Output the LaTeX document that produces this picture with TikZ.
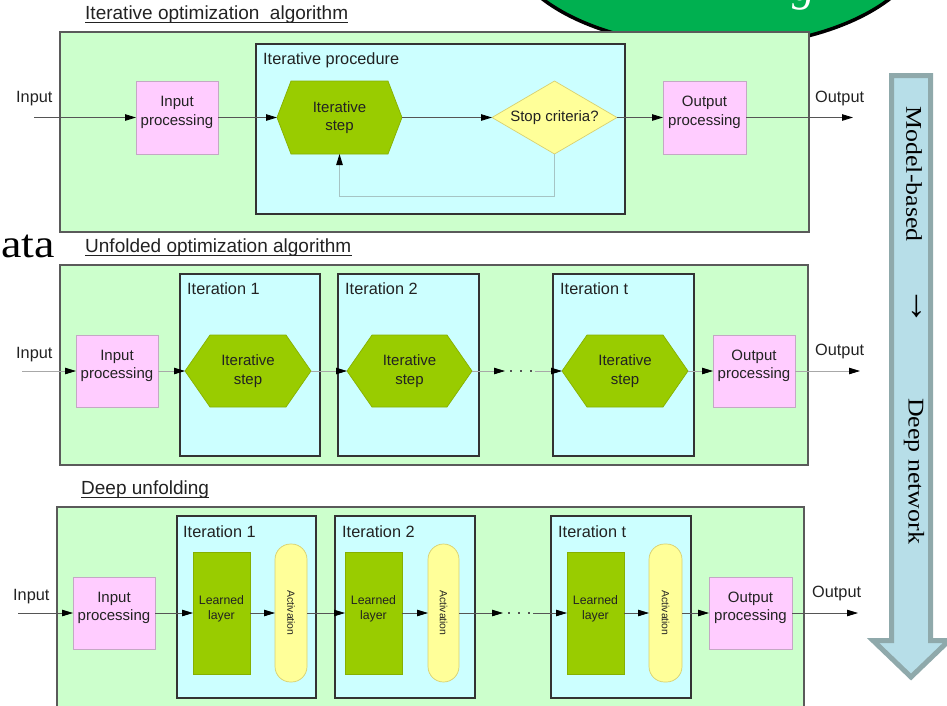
\documentclass[tikz,border=0pt]{standalone}
\usepackage{fontspec}
\setmainfont{Liberation Sans}
\newfontfamily\slideserif[FakeStretch=1.15]{Liberation Serif}
\newfontfamily\slideplain{Liberation Serif}
\usetikzlibrary{arrows.meta,fit}

\definecolor{panelgreen}{HTML}{CCFFCC}
\definecolor{panelline}{HTML}{5A5A5A}
\definecolor{itercyan}{HTML}{CCFFFF}
\definecolor{iterline}{HTML}{333333}
\definecolor{procpink}{HTML}{FFCCFF}
\definecolor{pinkline}{HTML}{C4A8C4}
\definecolor{stepgreen}{HTML}{99CC00}
\definecolor{stepline}{HTML}{86B000}
\definecolor{paleyellow}{HTML}{FFFF99}
\definecolor{yellowline}{HTML}{D8D070}
\definecolor{badgegreen}{HTML}{00B050}
\definecolor{arrowfill}{HTML}{B7DEE8}
\definecolor{arrowline}{HTML}{8FA9AB}
\definecolor{textgray}{HTML}{222222}
\definecolor{wiredark}{HTML}{555555}
\definecolor{wirelight}{HTML}{A8A8A8}
\definecolor{loopline}{HTML}{A6C4C4}

% hexagonal "Iterative step" block: name, corner, corner, inset, text
\newcommand\hexnode[5]{%
  \node[fit={#2 #3}, inner sep=0pt, outer sep=0pt] (#1) {};
  \filldraw[hexshape] (#1.west) -- ([xshift=#4pt]#1.north west)
    -- ([xshift=-#4pt]#1.north east) -- (#1.east)
    -- ([xshift=-#4pt]#1.south east) -- ([xshift=#4pt]#1.south west) -- cycle;
  \node[boxtext] (#1-text) at (#1.center) {#5};
}
% decision diamond: name, corner, corner, text
\newcommand\diamondnode[4]{%
  \node[fit={#2 #3}, inner sep=0pt, outer sep=0pt] (#1) {};
  \filldraw[diamondshape] (#1.west) -- (#1.north) -- (#1.east) -- (#1.south) -- cycle;
  \node[boxtext] (#1-text) at (#1.center) {#4};
}

\begin{document}
\begin{tikzpicture}[x=1pt,y=-1pt,
  panel/.style={draw=panelline, fill=panelgreen, line width=1.4pt, inner sep=0pt, outer sep=0pt},
  iterbox/.style={draw=iterline, fill=itercyan, line width=1.3pt, inner sep=0pt, outer sep=0pt},
  procbox/.style={draw=pinkline, fill=procpink, line width=0.7pt, inner sep=0pt, outer sep=0pt,
    align=center, text=textgray, font=\fontsize{15}{18.5}\selectfont},
  layerbox/.style={draw=stepline, fill=stepgreen, line width=0.7pt, inner sep=0pt, outer sep=0pt,
    align=center, text=textgray, font=\fontsize{12.3}{14.7}\selectfont},
  actbox/.style={draw=yellowline, fill=paleyellow, line width=0.7pt, inner sep=0pt, outer sep=0pt,
    rounded corners=15.5pt},
  acttext/.style={rotate=-90, inner sep=0pt, text=textgray, font=\fontsize{10.4}{10.4}\selectfont},
  hexshape/.style={fill=stepgreen, draw=stepline, line width=0.7pt},
  diamondshape/.style={fill=paleyellow, draw=yellowline, line width=0.7pt},
  boxtext/.style={align=center, inner sep=0pt, text=textgray, font=\fontsize{15}{18.5}\selectfont},
  lbl/.style={anchor=base west, inner sep=0pt, text=textgray, font=\fontsize{16.3}{16.3}\selectfont},
  title/.style={anchor=base west, inner sep=0pt, text=textgray, font=\fontsize{19}{19}\selectfont},
  uline/.style={draw=textgray, line width=0.9pt},
  tip/.style={-{Triangle[length=11pt,width=6.5pt,color=black]}},
  conn/.style={draw=wiredark, line width=0.8pt, tip},
  connlight/.style={draw=wirelight, line width=0.8pt, tip},
  loopconn/.style={draw=loopline, line width=0.9pt, tip},
  dots/.style={draw=wiredark, line width=1.6pt, dash pattern=on 1.6pt off 8.4pt},
  bigarrow/.style={fill=arrowfill, draw=arrowline, line width=5pt, line join=miter}
]
\useasboundingbox (0,0) rectangle (947,705);
\clip (0,0) rectangle (947,705);

% ---------------- slide decorations ----------------
\filldraw[fill=badgegreen, draw=black, line width=3.5pt] (716,-63) ellipse [x radius=210, y radius=110];
\node[anchor=base, inner sep=0pt, text=white, font=\slideplain\itshape\fontsize{46}{46}\selectfont] (badgeg) at (804,0) {g};
\node[anchor=base west, inner sep=0pt, text=black, font=\slideserif\fontsize{40}{40}\selectfont] (sideword) at (1,257) {ata};

% big downward arrow with its caption
\filldraw[bigarrow] (891.5,75.5) -- (930.5,75.5) -- (930.5,640.5) -- (949,640.5)
  -- (911,677) -- (873,640.5) -- (891.5,640.5) -- cycle;
\node[rotate=-90, inner sep=0pt, font=\slideserif\fontsize{22.5}{22.5}\selectfont] (modelword) at (914,174) {Model-based};
\node[rotate=-90, inner sep=0pt, font=\slideplain\fontsize{38}{38}\selectfont] (shiftarrow) at (916,306) {→};
\node[rotate=-90, inner sep=0pt, font=\slideserif\fontsize{22.5}{22.5}\selectfont] (deepword) at (914,471) {Deep network};

% ---------------- iterative optimization algorithm ----------------
\node[title] (titleA) at (85,19.5) {Iterative optimization~~algorithm};
\draw[uline] ([yshift=-3pt]titleA.base west) -- ([yshift=-3pt]titleA.base east);
\node[panel, fit={(60,32) (809,232)}] (panelA) {};
\node[iterbox, fit={(256,44) (625,214)}] (procA) {};
\node[lbl] (procAlabel) at (263,64) {Iterative procedure};
\node[procbox, fit={(136,81) (218,154)}] (inA) {Input\\processing};
\hexnode{stepA}{(277,81)}{(402,154)}{14}{Iterative\\step}
\diamondnode{stopA}{(492,81)}{(617,154)}{Stop criteria?}
\node[procbox, fit={(663,81) (746,154)}] (outA) {Output\\processing};
\node[lbl] (inlabelA) at (16,102) {Input};
\node[lbl] (outlabelA) at (815,102) {Output};
\coordinate (inStartA) at (34,117.5);
\coordinate (outEndA) at (853,117.5);
\draw[conn] (inStartA) -- (inA.west);
\draw[conn] (inA.east) -- (stepA.west);
\draw[conn] (stepA.east) -- (stopA.west);
\draw[conn] (stopA.east) -- (outA.west);
\draw[conn] (outA.east) -- (outEndA);
\draw[loopconn] (stopA.south) -- ++(0,42) -| (stepA.south);

% ---------------- unfolded optimization algorithm ----------------
\node[title] (titleB) at (85,252) {Unfolded optimization algorithm};
\draw[uline] ([yshift=-3pt]titleB.base west) -- ([yshift=-3pt]titleB.base east);
\node[panel, fit={(60,265) (808,465)}] (panelB) {};
\node[iterbox, fit={(180,274) (320,456)}] (iterB1) {};
\node[iterbox, fit={(338,274) (479,456)}] (iterB2) {};
\node[iterbox, fit={(553,274) (694,456)}] (iterBt) {};
\node[lbl] (iterB1label) at (187,294) {Iteration 1};
\node[lbl] (iterB2label) at (345,294) {Iteration 2};
\node[lbl] (iterBtlabel) at (560,294) {Iteration t};
\node[procbox, fit={(76,335) (158,407)}] (inB) {Input\\processing};
\hexnode{stepB1}{(185,335)}{(311,407)}{25}{Iterative\\step}
\hexnode{stepB2}{(347,335)}{(472,407)}{25}{Iterative\\step}
\hexnode{stepBt}{(562,335)}{(688,407)}{25}{Iterative\\step}
\node[procbox, fit={(713,335) (795,407)}] (outB) {Output\\processing};
\node[lbl] (inlabelB) at (16,358) {Input};
\node[lbl] (outlabelB) at (815,355) {Output};
\coordinate (inStartB) at (22,371);
\coordinate (outEndB) at (860,371);
\coordinate (skipB1) at (505,371);
\coordinate (skipB2) at (535,371);
\draw[connlight] (inStartB) -- (inB.west);
\draw[connlight] (inB.east) -- (stepB1.west);
\draw[connlight] (stepB1.east) -- (stepB2.west);
\draw[connlight] (stepB2.east) -- (skipB1);
\draw[dots] ([xshift=5pt]skipB1) -- (skipB2);
\draw[connlight] (skipB2) -- (stepBt.west);
\draw[connlight] (stepBt.east) -- (outB.west);
\draw[connlight] (outB.east) -- (outEndB);

% ---------------- deep unfolding ----------------
\node[title] (titleC) at (81,494) {Deep unfolding};
\draw[uline] ([yshift=-3pt]titleC.base west) -- ([yshift=-3pt]titleC.base east);
\node[panel, fit={(57,507) (804,712)}] (panelC) {};
\node[iterbox, fit={(177,516) (316,698)}] (iterC1) {};
\node[iterbox, fit={(335,516) (475,698)}] (iterC2) {};
\node[iterbox, fit={(551,516) (691,698)}] (iterCt) {};
\node[lbl] (iterC1label) at (183,537) {Iteration 1};
\node[lbl] (iterC2label) at (342,537) {Iteration 2};
\node[lbl] (iterCtlabel) at (558,537) {Iteration t};
\node[procbox, fit={(73,577) (155,649)}] (inC) {Input\\processing};
\node[layerbox, fit={(193,552) (250,674)}] (layerC1) {Learned\\layer};
\node[actbox, fit={(275,544) (307,682)}] (actC1) {};
\node[acttext] (actC1text) at (actC1.center) {Activation};
\node[layerbox, fit={(345,552) (402,674)}] (layerC2) {Learned\\layer};
\node[actbox, fit={(428,544) (459,682)}] (actC2) {};
\node[acttext] (actC2text) at (actC2.center) {Activation};
\node[layerbox, fit={(567,552) (624,674)}] (layerCt) {Learned\\layer};
\node[actbox, fit={(649,544) (682,682)}] (actCt) {};
\node[acttext] (actCttext) at (actCt.center) {Activation};
\node[procbox, fit={(709,577) (792,649)}] (outC) {Output\\processing};
\node[lbl] (inlabelC) at (13,600) {Input};
\node[lbl] (outlabelC) at (812,597) {Output};
\coordinate (inStartC) at (18,613);
\coordinate (outEndC) at (858,613);
\coordinate (skipC1) at (503,613);
\coordinate (skipC2) at (533,613);
\draw[conn] (inStartC) -- (inC.west);
\draw[conn] (inC.east) -- (layerC1.west);
\draw[conn] (layerC1.east) -- (actC1.west);
\draw[conn] (actC1.east) -- (layerC2.west);
\draw[conn] (layerC2.east) -- (actC2.west);
\draw[conn] (actC2.east) -- (skipC1);
\draw[dots] ([xshift=5pt]skipC1) -- (skipC2);
\draw[conn] (skipC2) -- (layerCt.west);
\draw[conn] (layerCt.east) -- (actCt.west);
\draw[conn] (actCt.east) -- (outC.west);
\draw[conn] (outC.east) -- (outEndC);
\end{tikzpicture}
\end{document}
